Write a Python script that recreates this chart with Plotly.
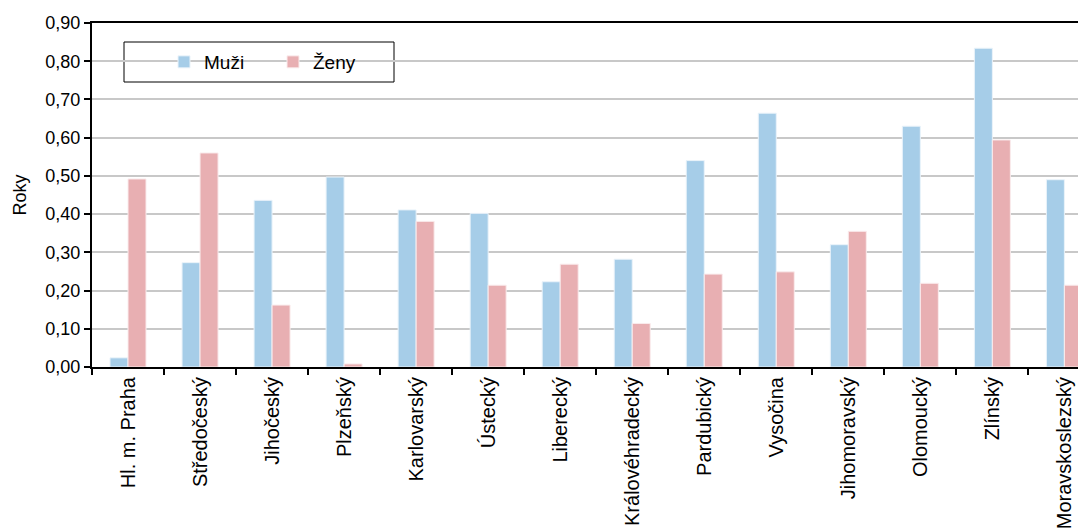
import plotly.graph_objects as go

regions = ["Hl. m. Praha", "Středočeský", "Jihočeský", "Plzeňský", "Karlovarský",
           "Ústecký", "Liberecký", "Královéhradecký", "Pardubický", "Vysočina",
           "Jihomoravský", "Olomoucký", "Zlínský", "Moravskoslezský"]
muzi = [0.024, 0.273, 0.436, 0.497, 0.411, 0.402, 0.223, 0.282, 0.540, 0.664,
        0.320, 0.630, 0.834, 0.490]
zeny = [0.492, 0.560, 0.162, 0.008, 0.381, 0.214, 0.269, 0.114, 0.243, 0.249,
        0.355, 0.219, 0.594, 0.214]
y_ticks = [0.0, 0.1, 0.2, 0.3, 0.4, 0.5, 0.6, 0.7, 0.8, 0.9]

FONT = "Liberation Sans, Arial, sans-serif"
FS = 18

fig = go.Figure()
fig.add_trace(go.Bar(x=regions, y=muzi, name="Muži",
                     marker=dict(color="#A6CDE8", line=dict(color="#EAF3FA", width=1))))
fig.add_trace(go.Bar(x=regions, y=zeny, name="Ženy",
                     marker=dict(color="#E8AFB2", line=dict(color="#FAECED", width=1))))

# page has an 8px body margin; figure is placed at (8, 8)
OFF = 8
W, H = 1086 - OFF, 529 - OFF
PL, PT, PB = 92, 23, 367          # plot area in page coords
pw, ph = 1086 - PL, PB - PT


def px(x):
    return (x - PL) / pw


def py(y):
    return (PB - y) / ph


fig.update_layout(
    width=W, height=H,
    margin=dict(l=PL - OFF, r=0, t=PT - OFF, b=H - (PB - OFF)),
    paper_bgcolor="white", plot_bgcolor="white",
    font=dict(family=FONT, size=FS, color="black"),
    separators=", ",
    barmode="group", bargap=0.5, bargroupgap=0,
    showlegend=True,
    legend=dict(orientation="h", x=px(164), y=py(62), xanchor="left", yanchor="middle",
                bgcolor="rgba(0,0,0,0)", borderwidth=0, entrywidth=64,
                font=dict(family=FONT, size=19, color="black")),
    shapes=[dict(type="rect", xref="paper", yref="paper",
                 x0=px(124), x1=px(394), y0=py(82), y1=py(42),
                 line=dict(color="black", width=1), fillcolor="white", layer="below")],
)
fig.update_xaxes(
    type="category", range=[-0.5, 13.3],
    showline=True, linecolor="black", linewidth=2, mirror=True,
    ticks="outside", tickson="boundaries", ticklen=6, tickwidth=1.5, tickcolor="black",
    tickangle=-90, showgrid=False,
    tickfont=dict(family=FONT, size=20, color="black"),
)
fig.update_yaxes(
    range=[0, 0.9], tickvals=y_ticks, tickformat=".2f",
    showline=True, linecolor="black", linewidth=2,
    ticks="outside", ticklen=6, tickwidth=1.5, tickcolor="black",
    showgrid=True, gridcolor="#C8C8C8", gridwidth=1.5,
    zeroline=False,
    tickfont=dict(family=FONT, size=FS, color="black"),
    title=dict(text="Roky", font=dict(family=FONT, size=FS, color="black"), standoff=14),
)

fig.write_html("out.html")
